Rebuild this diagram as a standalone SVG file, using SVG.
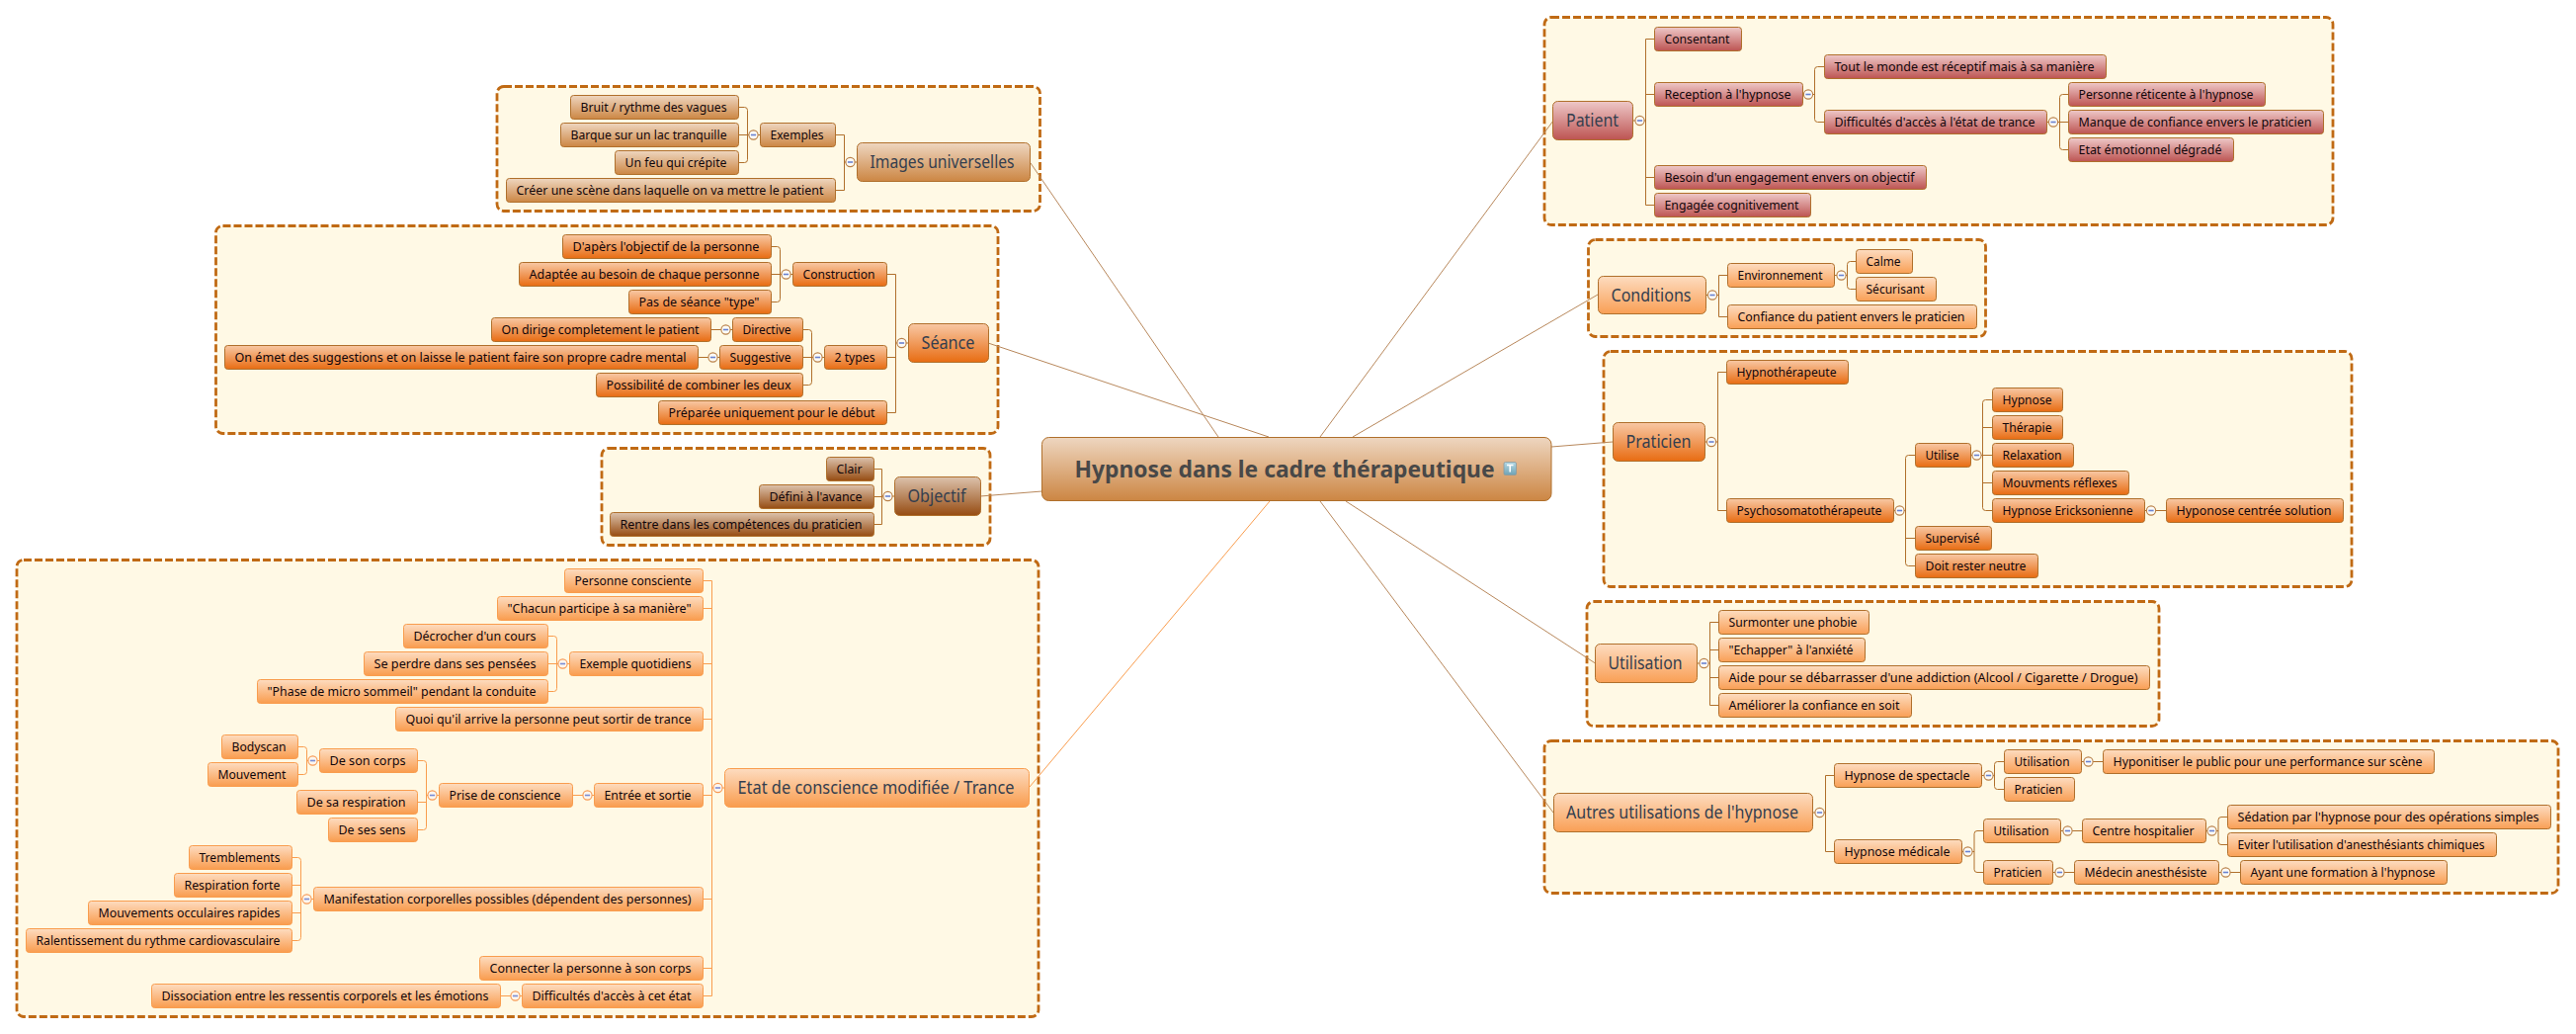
<svg xmlns="http://www.w3.org/2000/svg" xmlns:xlink="http://www.w3.org/1999/xlink" width="2607" height="1046" viewBox="0 0 2607 1046">
<style>
svg{background:#fff}
.grp{fill:#fff9e5;stroke:#c06a14;stroke-width:2.8;stroke-dasharray:8 3}
.c{fill:none;stroke:#b0702c;stroke-width:1}
.ce{fill:none;stroke:#f99d4e;stroke-width:1}
.m{fill:none;stroke:#b8885c;stroke-width:1}
rect.n{stroke:#b0702c;stroke-width:1}
.r rect.n{fill:url(#gr)}
.o rect.n{fill:url(#go)}
.s rect.n{fill:url(#gs)}
.i rect.n{fill:url(#gi)}
.b rect.n{fill:url(#gb)}
.e rect.n{fill:url(#ge);stroke:#f99d4e}
text{font-family:"Noto Sans","Open Sans","Liberation Sans",sans-serif;font-size:13px;fill:#12060a}
text.l{font-size:18px;fill:#343e4e}
text.root{font-size:23px;font-weight:bold;fill:#484848}
</style>
<defs>
<linearGradient id="gr" x1="0" y1="0" x2="0" y2="1"><stop offset="0" stop-color="#eec8c8"/><stop offset="1" stop-color="#bd5452"/></linearGradient>
<linearGradient id="go" x1="0" y1="0" x2="0" y2="1"><stop offset="0" stop-color="#fddcc0"/><stop offset="1" stop-color="#f99f55"/></linearGradient>
<linearGradient id="gs" x1="0" y1="0" x2="0" y2="1"><stop offset="0" stop-color="#f8c8a4"/><stop offset="1" stop-color="#e86c12"/></linearGradient>
<linearGradient id="gi" x1="0" y1="0" x2="0" y2="1"><stop offset="0" stop-color="#eed6c0"/><stop offset="1" stop-color="#cc8643"/></linearGradient>
<linearGradient id="gb" x1="0" y1="0" x2="0" y2="1"><stop offset="0" stop-color="#dcc2ac"/><stop offset="1" stop-color="#964c12"/></linearGradient>
<linearGradient id="ge" x1="0" y1="0" x2="0" y2="1"><stop offset="0" stop-color="#fddcc0"/><stop offset="1" stop-color="#f99c4e"/></linearGradient>
<linearGradient id="gt" x1="0" y1="0" x2="0" y2="1"><stop offset="0" stop-color="#b4d8e4"/><stop offset="1" stop-color="#6fa3b5"/></linearGradient>
<g id="tg"><circle r="4.6" fill="#fdfbf6" stroke="#b98048" stroke-width="1.1"/><path d="M-2.6 0H2.6" stroke="#6a82d0" stroke-width="1.6"/></g>
<g id="tge"><circle r="4.6" fill="#fdf6ee" stroke="#f79a55" stroke-width="1.1"/><path d="M-2.6 0H2.6" stroke="#7a8cd4" stroke-width="1.6"/></g>
</defs>

<g id="boundaries">
<rect class="grp" x="1563" y="17.5" width="798" height="210" rx="7"/>
<rect class="grp" x="1607.5" y="242.5" width="402" height="98" rx="7"/>
<rect class="grp" x="1623" y="355.5" width="757" height="238" rx="7"/>
<rect class="grp" x="1606" y="608.5" width="579" height="126" rx="7"/>
<rect class="grp" x="1563" y="749.5" width="1026" height="154" rx="7"/>
<rect class="grp" x="503" y="87.5" width="549.5" height="126" rx="7"/>
<rect class="grp" x="218.5" y="228.5" width="791.5" height="210" rx="7"/>
<rect class="grp" x="609" y="453.5" width="393" height="98" rx="7"/>
<rect class="grp" x="17" y="566.5" width="1034" height="462" rx="7"/>
</g>

<g id="connectors">
<path class="m" d="M1043 165L1233 442M1000 347L1284 442M1572 122L1336 442M1617 298L1369 442M1632 447L1570 452M1614.5 671L1362 507M1572 822L1336 507M992 502L1054.5 497"/>
<path class="ce" d="M1042 796L1285 507"/>
<path class="c" d="M1652.5 122H1665.5M1674.5 39.5H1665.5V207.5H1674.5M1665.5 95.5H1674.5M1665.5 179.5H1674.5"/>
<path class="c" d="M1824.5 95.5H1836.5M1846.5 67.5H1839.5Q1836.5 67.5 1836.5 70.5V120.5Q1836.5 123.5 1839.5 123.5H1846.5"/>
<path class="c" d="M2071.5 123.5H2093.5M2093.5 95.5H2087.5Q2084.5 95.5 2084.5 98.5V148.5Q2084.5 151.5 2087.5 151.5H2093.5"/>
<path class="c" d="M1726.5 298.5H1739.5M1748.5 278.5H1739.5V320.5H1748.5"/>
<path class="c" d="M1856.5 278.5H1869.5M1878.5 264.5H1872.5Q1869.5 264.5 1869.5 267.5V289.5Q1869.5 292.5 1872.5 292.5H1878.5"/>
<path class="c" d="M1725.5 447H1738.5M1747.5 376.5H1738.5V516.5H1747.5"/>
<path class="c" d="M1916.5 516.5H1928.5M1938.5 460.5H1931.5Q1928.5 460.5 1928.5 463.5V569.5Q1928.5 572.5 1931.5 572.5H1938.5M1928.5 544.5H1938.5"/>
<path class="c" d="M1994.5 460.5H2016.5M2016.5 404.5H2009.5Q2006.5 404.5 2006.5 407.5V513.5Q2006.5 516.5 2009.5 516.5H2016.5M2006.5 432.5H2016.5M2006.5 488.5H2016.5"/>
<path class="c" d="M2170.5 516.5H2192.5"/>
<path class="c" d="M1717.5 671H1730.5M1739.5 629.5H1730.5V713.5H1739.5M1730.5 657.5H1739.5M1730.5 685.5H1739.5"/>
<path class="c" d="M1834.5 822H1847.5M1856.5 784.5H1847.5V861.5H1856.5"/>
<path class="c" d="M2005.5 784.5H2018.5M2028.5 770.5H2021.5Q2018.5 770.5 2018.5 773.5V795.5Q2018.5 798.5 2021.5 798.5H2028.5"/>
<path class="c" d="M2106.5 770.5H2128.5"/>
<path class="c" d="M1985.5 861.5H1998M2007.5 840.5H2001Q1998 840.5 1998 843.5V879.5Q1998 882.5 2001 882.5H2007.5"/>
<path class="c" d="M2085.5 840.5H2107.5M2077.5 882.5H2099.5M2245.5 882.5H2267.5"/>
<path class="c" d="M2232.5 840.5H2245M2254.5 826.5H2248Q2245 826.5 2245 829.5V851.5Q2245 854.5 2248 854.5H2254.5"/>
<path class="c" d="M867.5 164H854.5M845.5 136.5H854.5V192.5H845.5"/>
<path class="c" d="M769.5 136.5H747.5M747.5 108.5H753.5Q756.5 108.5 756.5 111.5V161.5Q756.5 164.5 753.5 164.5H747.5"/>
<path class="c" d="M919.5 347H906.5M897.5 277.5H906.5V417.5H897.5M906.5 361.5H897.5"/>
<path class="c" d="M802.5 277.5H780.5M780.5 249.5H786.5Q789.5 249.5 789.5 252.5V302.5Q789.5 305.5 786.5 305.5H780.5"/>
<path class="c" d="M834.5 361.5H812.5M812.5 333.5H818.5Q821.5 333.5 821.5 336.5V386.5Q821.5 389.5 818.5 389.5H812.5"/>
<path class="c" d="M741.5 333.5H719.5M728.5 361.5H706.5"/>
<path class="c" d="M905.5 502H892.5M884.5 474.5H892.5V530.5H884.5M892.5 502.5H884.5"/>
<path class="ce" d="M733.5 797H720.5M711.5 587.5H720.5V1007.5H711.5M720.5 615.5H711.5M720.5 671.5H711.5M720.5 727.5H711.5M720.5 804.5H711.5M720.5 909.5H711.5M720.5 979.5H711.5"/>
<path class="ce" d="M576.5 671.5H554.5M554.5 643.5H560.5Q563.5 643.5 563.5 646.5V696.5Q563.5 699.5 560.5 699.5H554.5"/>
<path class="ce" d="M601.5 804.5H579.5M528.5 1007.5H506.5"/>
<path class="ce" d="M444.5 804.5H431.5M422.5 769.5H428.5Q431.5 769.5 431.5 772.5V836.5Q431.5 839.5 428.5 839.5H422.5M431.5 811.5H422.5"/>
<path class="ce" d="M323.5 769.5H310.5M301.5 755.5H307.5Q310.5 755.5 310.5 758.5V780.5Q310.5 783.5 307.5 783.5H301.5"/>
<path class="ce" d="M317.5 909.5H304.5M295.5 867.5H301.5Q304.5 867.5 304.5 870.5V948.5Q304.5 951.5 301.5 951.5H295.5M304.5 895.5H295.5M304.5 923.5H295.5"/>
</g>

<g id="toggles">
<use href="#tg" x="1659.5" y="122"/><use href="#tg" x="1830" y="95.5"/><use href="#tg" x="2078" y="123.5"/>
<use href="#tg" x="1733" y="298.5"/><use href="#tg" x="1863.5" y="278.5"/>
<use href="#tg" x="1732" y="447"/><use href="#tg" x="1922.5" y="516.5"/><use href="#tg" x="2000.5" y="460.5"/><use href="#tg" x="2177" y="516.5"/>
<use href="#tg" x="1724.5" y="671"/>
<use href="#tg" x="1841.5" y="822"/><use href="#tg" x="2012.5" y="784.5"/><use href="#tg" x="2113.5" y="770.5"/><use href="#tg" x="1991.5" y="861.5"/><use href="#tg" x="2092.5" y="840.5"/><use href="#tg" x="2238.5" y="840.5"/><use href="#tg" x="2084.5" y="882.5"/><use href="#tg" x="2252.5" y="882.5"/>
<use href="#tg" x="860.5" y="164"/><use href="#tg" x="762.5" y="136.5"/>
<use href="#tg" x="912.5" y="347"/><use href="#tg" x="795.5" y="277.5"/><use href="#tg" x="827.5" y="361.5"/><use href="#tg" x="734.5" y="333.5"/><use href="#tg" x="721.5" y="361.5"/>
<use href="#tg" x="898.5" y="502"/>
<use href="#tge" x="726.5" y="797"/><use href="#tge" x="569.5" y="671.5"/><use href="#tge" x="594.5" y="804.5"/><use href="#tge" x="521.5" y="1007.5"/><use href="#tge" x="437.5" y="804.5"/><use href="#tge" x="316.5" y="769.5"/><use href="#tge" x="310.5" y="909.5"/>
</g>

<g id="root" class="i"><rect class="n" x="1054.5" y="442.5" width="515.5" height="64" rx="7"/><text class="root" x="1087.5" y="483" textLength="425" lengthAdjust="spacingAndGlyphs">Hypnose dans le cadre thérapeutique</text><rect x="1522" y="467.5" width="12.5" height="13" rx="1.5" fill="url(#gt)" stroke="#8a9aa0" stroke-width=".8"/><path d="M1525 470.5h6.5M1528.2 470.5v7" stroke="#fff" stroke-width="1.6" fill="none"/></g>

<g id="patient" class="r"><rect class="n" x="1571.5" y="102.5" width="81" height="39" rx="5"/><text class="l" x="1585" y="128" textLength="53" lengthAdjust="spacingAndGlyphs">Patient</text></g>
<g id="consentant" class="r"><rect class="n" x="1674.5" y="27.5" width="88" height="24" rx="3"/><text x="1684.5" y="44" textLength="66" lengthAdjust="spacingAndGlyphs">Consentant</text></g>
<g id="reception" class="r"><rect class="n" x="1674.5" y="83.5" width="150" height="24" rx="3"/><text x="1684.5" y="100" textLength="128" lengthAdjust="spacingAndGlyphs">Reception à l'hypnose</text></g>
<g id="tout" class="r"><rect class="n" x="1846.5" y="55.5" width="285" height="24" rx="3"/><text x="1856.5" y="72" textLength="263" lengthAdjust="spacingAndGlyphs">Tout le monde est réceptif mais à sa manière</text></g>
<g id="difficultes" class="r"><rect class="n" x="1846.5" y="111.5" width="225" height="24" rx="3"/><text x="1856.5" y="128" textLength="203" lengthAdjust="spacingAndGlyphs">Difficultés d'accès à l'état de trance</text></g>
<g id="reticente" class="r"><rect class="n" x="2093.5" y="83.5" width="199" height="24" rx="3"/><text x="2103.5" y="100" textLength="177" lengthAdjust="spacingAndGlyphs">Personne réticente à l'hypnose</text></g>
<g id="manque" class="r"><rect class="n" x="2093.5" y="111.5" width="258" height="24" rx="3"/><text x="2103.5" y="128" textLength="236" lengthAdjust="spacingAndGlyphs">Manque de confiance envers le praticien</text></g>
<g id="etat-emo" class="r"><rect class="n" x="2093.5" y="139.5" width="167" height="24" rx="3"/><text x="2103.5" y="156" textLength="145" lengthAdjust="spacingAndGlyphs">Etat émotionnel dégradé</text></g>
<g id="besoin" class="r"><rect class="n" x="1674.5" y="167.5" width="275" height="24" rx="3"/><text x="1684.5" y="184" textLength="253" lengthAdjust="spacingAndGlyphs">Besoin d'un engagement envers on objectif</text></g>
<g id="engagee" class="r"><rect class="n" x="1674.5" y="195.5" width="158" height="24" rx="3"/><text x="1684.5" y="212" textLength="136" lengthAdjust="spacingAndGlyphs">Engagée cognitivement</text></g>

<g id="conditions" class="o"><rect class="n" x="1617.5" y="279.5" width="109" height="38" rx="5"/><text class="l" x="1630.5" y="304.5" textLength="81" lengthAdjust="spacingAndGlyphs">Conditions</text></g>
<g id="environnement" class="o"><rect class="n" x="1748.5" y="266.5" width="108" height="24" rx="3"/><text x="1758.5" y="283" textLength="86" lengthAdjust="spacingAndGlyphs">Environnement</text></g>
<g id="calme" class="o"><rect class="n" x="1878.5" y="252.5" width="57" height="24" rx="3"/><text x="1888.5" y="269" textLength="35" lengthAdjust="spacingAndGlyphs">Calme</text></g>
<g id="securisant" class="o"><rect class="n" x="1878.5" y="280.5" width="81" height="24" rx="3"/><text x="1888.5" y="297" textLength="59" lengthAdjust="spacingAndGlyphs">Sécurisant</text></g>
<g id="confiance" class="o"><rect class="n" x="1748.5" y="308.5" width="252" height="24" rx="3"/><text x="1758.5" y="325" textLength="230" lengthAdjust="spacingAndGlyphs">Confiance du patient envers le praticien</text></g>

<g id="praticien" class="s"><rect class="n" x="1632.5" y="427.5" width="93" height="39" rx="5"/><text class="l" x="1645.5" y="453" textLength="66" lengthAdjust="spacingAndGlyphs">Praticien</text></g>
<g id="hypnotherapeute" class="s"><rect class="n" x="1747.5" y="364.5" width="123" height="24" rx="3"/><text x="1757.5" y="381" textLength="101" lengthAdjust="spacingAndGlyphs">Hypnothérapeute</text></g>
<g id="psycho" class="s"><rect class="n" x="1747.5" y="504.5" width="169" height="24" rx="3"/><text x="1757.5" y="521" textLength="147" lengthAdjust="spacingAndGlyphs">Psychosomatothérapeute</text></g>
<g id="utilise" class="s"><rect class="n" x="1938.5" y="448.5" width="56" height="24" rx="3"/><text x="1948.5" y="465" textLength="34" lengthAdjust="spacingAndGlyphs">Utilise</text></g>
<g id="hypnose" class="s"><rect class="n" x="2016.5" y="392.5" width="71" height="24" rx="3"/><text x="2026.5" y="409" textLength="50" lengthAdjust="spacingAndGlyphs">Hypnose</text></g>
<g id="therapie" class="s"><rect class="n" x="2016.5" y="420.5" width="71" height="24" rx="3"/><text x="2026.5" y="437" textLength="50" lengthAdjust="spacingAndGlyphs">Thérapie</text></g>
<g id="relaxation" class="s"><rect class="n" x="2016.5" y="448.5" width="82" height="24" rx="3"/><text x="2026.5" y="465" textLength="60" lengthAdjust="spacingAndGlyphs">Relaxation</text></g>
<g id="mouvments" class="s"><rect class="n" x="2016.5" y="476.5" width="138" height="24" rx="3"/><text x="2026.5" y="493" textLength="116" lengthAdjust="spacingAndGlyphs">Mouvments réflexes</text></g>
<g id="erick" class="s"><rect class="n" x="2016.5" y="504.5" width="154" height="24" rx="3"/><text x="2026.5" y="521" textLength="132" lengthAdjust="spacingAndGlyphs">Hypnose Ericksonienne</text></g>
<g id="solution" class="s"><rect class="n" x="2192.5" y="504.5" width="179" height="24" rx="3"/><text x="2202.5" y="521" textLength="157" lengthAdjust="spacingAndGlyphs">Hyponose centrée solution</text></g>
<g id="supervise" class="s"><rect class="n" x="1938.5" y="532.5" width="77" height="24" rx="3"/><text x="1948.5" y="549" textLength="55" lengthAdjust="spacingAndGlyphs">Supervisé</text></g>
<g id="neutre" class="s"><rect class="n" x="1938.5" y="560.5" width="124" height="24" rx="3"/><text x="1948.5" y="577" textLength="102" lengthAdjust="spacingAndGlyphs">Doit rester neutre</text></g>

<g id="utilisation" class="o"><rect class="n" x="1614.5" y="651.5" width="103" height="39" rx="5"/><text class="l" x="1627.5" y="677" textLength="75" lengthAdjust="spacingAndGlyphs">Utilisation</text></g>
<g id="phobie" class="o"><rect class="n" x="1739.5" y="617.5" width="152" height="24" rx="3"/><text x="1749.5" y="634" textLength="130" lengthAdjust="spacingAndGlyphs">Surmonter une phobie</text></g>
<g id="anxiete" class="o"><rect class="n" x="1739.5" y="645.5" width="148" height="24" rx="3"/><text x="1749.5" y="662" textLength="126" lengthAdjust="spacingAndGlyphs">"Echapper" à l'anxiété</text></g>
<g id="addiction" class="o"><rect class="n" x="1739.5" y="673.5" width="436" height="24" rx="3"/><text x="1749.5" y="690" textLength="414" lengthAdjust="spacingAndGlyphs">Aide pour se débarrasser d'une addiction (Alcool / Cigarette / Drogue)</text></g>
<g id="ameliorer" class="o"><rect class="n" x="1739.5" y="701.5" width="195" height="24" rx="3"/><text x="1749.5" y="718" textLength="173" lengthAdjust="spacingAndGlyphs">Améliorer la confiance en soit</text></g>

<g id="autres" class="o"><rect class="n" x="1572.5" y="802.5" width="262" height="39" rx="5"/><text class="l" x="1585" y="828" textLength="235" lengthAdjust="spacingAndGlyphs">Autres utilisations de l'hypnose</text></g>
<g id="spectacle" class="o"><rect class="n" x="1856.5" y="772.5" width="149" height="24" rx="3"/><text x="1866.5" y="789" textLength="127" lengthAdjust="spacingAndGlyphs">Hypnose de spectacle</text></g>
<g id="util-s" class="o"><rect class="n" x="2028.5" y="758.5" width="78" height="24" rx="3"/><text x="2038.5" y="775" textLength="56" lengthAdjust="spacingAndGlyphs">Utilisation</text></g>
<g id="public" class="o"><rect class="n" x="2128.5" y="758.5" width="335" height="24" rx="3"/><text x="2138.5" y="775" textLength="313" lengthAdjust="spacingAndGlyphs">Hyponitiser le public pour une performance sur scène</text></g>
<g id="prat-s" class="o"><rect class="n" x="2028.5" y="786.5" width="71" height="24" rx="3"/><text x="2038.5" y="803" textLength="49" lengthAdjust="spacingAndGlyphs">Praticien</text></g>
<g id="medicale" class="o"><rect class="n" x="1856.5" y="849.5" width="129" height="24" rx="3"/><text x="1866.5" y="866" textLength="107" lengthAdjust="spacingAndGlyphs">Hypnose médicale</text></g>
<g id="util-m" class="o"><rect class="n" x="2007.5" y="828.5" width="78" height="24" rx="3"/><text x="2017.5" y="845" textLength="56" lengthAdjust="spacingAndGlyphs">Utilisation</text></g>
<g id="centre" class="o"><rect class="n" x="2107.5" y="828.5" width="125" height="24" rx="3"/><text x="2117.5" y="845" textLength="103" lengthAdjust="spacingAndGlyphs">Centre hospitalier</text></g>
<g id="sedation" class="o"><rect class="n" x="2254.5" y="814.5" width="327" height="24" rx="3"/><text x="2264.5" y="831" textLength="305" lengthAdjust="spacingAndGlyphs">Sédation par l'hypnose pour des opérations simples</text></g>
<g id="eviter" class="o"><rect class="n" x="2254.5" y="842.5" width="272" height="24" rx="3"/><text x="2264.5" y="859" textLength="250" lengthAdjust="spacingAndGlyphs">Eviter l'utilisation d'anesthésiants chimiques</text></g>
<g id="prat-m" class="o"><rect class="n" x="2007.5" y="870.5" width="70" height="24" rx="3"/><text x="2017.5" y="887" textLength="49" lengthAdjust="spacingAndGlyphs">Praticien</text></g>
<g id="medecin" class="o"><rect class="n" x="2099.5" y="870.5" width="146" height="24" rx="3"/><text x="2109.5" y="887" textLength="124" lengthAdjust="spacingAndGlyphs">Médecin anesthésiste</text></g>
<g id="formation" class="o"><rect class="n" x="2267.5" y="870.5" width="209" height="24" rx="3"/><text x="2277.5" y="887" textLength="187" lengthAdjust="spacingAndGlyphs">Ayant une formation à l'hypnose</text></g>

<g id="images" class="i"><rect class="n" x="867.5" y="144.5" width="175" height="39" rx="5"/><text class="l" x="880.5" y="170" textLength="146" lengthAdjust="spacingAndGlyphs">Images universelles</text></g>
<g id="exemples" class="i"><rect class="n" x="769.5" y="124.5" width="76" height="24" rx="3"/><text x="779.5" y="141" textLength="54" lengthAdjust="spacingAndGlyphs">Exemples</text></g>
<g id="bruit" class="i"><rect class="n" x="577.5" y="96.5" width="170" height="24" rx="3"/><text x="587.5" y="113" textLength="148" lengthAdjust="spacingAndGlyphs">Bruit / rythme des vagues</text></g>
<g id="barque" class="i"><rect class="n" x="567.5" y="124.5" width="180" height="24" rx="3"/><text x="577.5" y="141" textLength="158" lengthAdjust="spacingAndGlyphs">Barque sur un lac tranquille</text></g>
<g id="feu" class="i"><rect class="n" x="622.5" y="152.5" width="125" height="24" rx="3"/><text x="632.5" y="169" textLength="103" lengthAdjust="spacingAndGlyphs">Un feu qui crépite</text></g>
<g id="creer" class="i"><rect class="n" x="512.5" y="180.5" width="333" height="24" rx="3"/><text x="522.5" y="197" textLength="311" lengthAdjust="spacingAndGlyphs">Créer une scène dans laquelle on va mettre le patient</text></g>

<g id="seance" class="s"><rect class="n" x="919.5" y="327.5" width="81" height="39" rx="5"/><text class="l" x="932.5" y="353" textLength="54" lengthAdjust="spacingAndGlyphs">Séance</text></g>
<g id="construction" class="s"><rect class="n" x="802.5" y="265.5" width="95" height="24" rx="3"/><text x="812.5" y="282" textLength="73" lengthAdjust="spacingAndGlyphs">Construction</text></g>
<g id="dapres" class="s"><rect class="n" x="569.5" y="237.5" width="211" height="24" rx="3"/><text x="579.5" y="254" textLength="189" lengthAdjust="spacingAndGlyphs">D'apèrs l'objectif de la personne</text></g>
<g id="adaptee" class="s"><rect class="n" x="525.5" y="265.5" width="255" height="24" rx="3"/><text x="535.5" y="282" textLength="233" lengthAdjust="spacingAndGlyphs">Adaptée au besoin de chaque personne</text></g>
<g id="pas" class="s"><rect class="n" x="636.5" y="293.5" width="144" height="24" rx="3"/><text x="646.5" y="310" textLength="122" lengthAdjust="spacingAndGlyphs">Pas de séance "type"</text></g>
<g id="types" class="s"><rect class="n" x="834.5" y="349.5" width="63" height="24" rx="3"/><text x="844.5" y="366" textLength="41" lengthAdjust="spacingAndGlyphs">2 types</text></g>
<g id="directive" class="s"><rect class="n" x="741.5" y="321.5" width="71" height="24" rx="3"/><text x="751.5" y="338" textLength="49" lengthAdjust="spacingAndGlyphs">Directive</text></g>
<g id="dirige" class="s"><rect class="n" x="497.5" y="321.5" width="222" height="24" rx="3"/><text x="507.5" y="338" textLength="200" lengthAdjust="spacingAndGlyphs">On dirige completement le patient</text></g>
<g id="suggestive" class="s"><rect class="n" x="728.5" y="349.5" width="84" height="24" rx="3"/><text x="738.5" y="366" textLength="62" lengthAdjust="spacingAndGlyphs">Suggestive</text></g>
<g id="emet" class="s"><rect class="n" x="227.5" y="349.5" width="479" height="24" rx="3"/><text x="237.5" y="366" textLength="457" lengthAdjust="spacingAndGlyphs">On émet des suggestions et on laisse le patient faire son propre cadre mental</text></g>
<g id="possibilite" class="s"><rect class="n" x="603.5" y="377.5" width="209" height="24" rx="3"/><text x="613.5" y="394" textLength="187" lengthAdjust="spacingAndGlyphs">Possibilité de combiner les deux</text></g>
<g id="preparee" class="s"><rect class="n" x="666.5" y="405.5" width="231" height="24" rx="3"/><text x="676.5" y="422" textLength="209" lengthAdjust="spacingAndGlyphs">Préparée uniquement pour le début</text></g>

<g id="objectif" class="b"><rect class="n" x="905.5" y="482.5" width="87" height="39" rx="5"/><text class="l" x="918.5" y="508" textLength="59" lengthAdjust="spacingAndGlyphs">Objectif</text></g>
<g id="clair" class="b"><rect class="n" x="836.5" y="462.5" width="48" height="24" rx="3"/><text x="846.5" y="479" textLength="26" lengthAdjust="spacingAndGlyphs">Clair</text></g>
<g id="defini" class="b"><rect class="n" x="768.5" y="490.5" width="116" height="24" rx="3"/><text x="778.5" y="507" textLength="94" lengthAdjust="spacingAndGlyphs">Défini à l'avance</text></g>
<g id="rentre" class="b"><rect class="n" x="617.5" y="518.5" width="267" height="24" rx="3"/><text x="627.5" y="535" textLength="245" lengthAdjust="spacingAndGlyphs">Rentre dans les compétences du praticien</text></g>

<g id="etat" class="e"><rect class="n" x="733.5" y="777.5" width="308" height="39" rx="5"/><text class="l" x="746.5" y="803" textLength="280" lengthAdjust="spacingAndGlyphs">Etat de conscience modifiée / Trance</text></g>
<g id="consciente" class="e"><rect class="n" x="571.5" y="575.5" width="140" height="24" rx="3"/><text x="581.5" y="592" textLength="118" lengthAdjust="spacingAndGlyphs">Personne consciente</text></g>
<g id="chacun" class="e"><rect class="n" x="503.5" y="603.5" width="208" height="24" rx="3"/><text x="513.5" y="620" textLength="186" lengthAdjust="spacingAndGlyphs">"Chacun participe à sa manière"</text></g>
<g id="quotidiens" class="e"><rect class="n" x="576.5" y="659.5" width="135" height="24" rx="3"/><text x="586.5" y="676" textLength="113" lengthAdjust="spacingAndGlyphs">Exemple quotidiens</text></g>
<g id="decrocher" class="e"><rect class="n" x="408.5" y="631.5" width="146" height="24" rx="3"/><text x="418.5" y="648" textLength="124" lengthAdjust="spacingAndGlyphs">Décrocher d'un cours</text></g>
<g id="perdre" class="e"><rect class="n" x="368.5" y="659.5" width="186" height="24" rx="3"/><text x="378.5" y="676" textLength="164" lengthAdjust="spacingAndGlyphs">Se perdre dans ses pensées</text></g>
<g id="phase" class="e"><rect class="n" x="260.5" y="687.5" width="294" height="24" rx="3"/><text x="270.5" y="704" textLength="272" lengthAdjust="spacingAndGlyphs">"Phase de micro sommeil" pendant la conduite</text></g>
<g id="quoi" class="e"><rect class="n" x="400.5" y="715.5" width="311" height="24" rx="3"/><text x="410.5" y="732" textLength="289" lengthAdjust="spacingAndGlyphs">Quoi qu'il arrive la personne peut sortir de trance</text></g>
<g id="entree" class="e"><rect class="n" x="601.5" y="792.5" width="110" height="24" rx="3"/><text x="611.5" y="809" textLength="88" lengthAdjust="spacingAndGlyphs">Entrée et sortie</text></g>
<g id="prise" class="e"><rect class="n" x="444.5" y="792.5" width="135" height="24" rx="3"/><text x="454.5" y="809" textLength="113" lengthAdjust="spacingAndGlyphs">Prise de conscience</text></g>
<g id="corps" class="e"><rect class="n" x="323.5" y="757.5" width="99" height="24" rx="3"/><text x="333.5" y="774" textLength="77" lengthAdjust="spacingAndGlyphs">De son corps</text></g>
<g id="bodyscan" class="e"><rect class="n" x="224.5" y="743.5" width="77" height="24" rx="3"/><text x="234.5" y="760" textLength="55" lengthAdjust="spacingAndGlyphs">Bodyscan</text></g>
<g id="mouvement" class="e"><rect class="n" x="210.5" y="771.5" width="91" height="24" rx="3"/><text x="220.5" y="788" textLength="69" lengthAdjust="spacingAndGlyphs">Mouvement</text></g>
<g id="respiration" class="e"><rect class="n" x="300.5" y="799.5" width="122" height="24" rx="3"/><text x="310.5" y="816" textLength="100" lengthAdjust="spacingAndGlyphs">De sa respiration</text></g>
<g id="sens" class="e"><rect class="n" x="332.5" y="827.5" width="90" height="24" rx="3"/><text x="342.5" y="844" textLength="68" lengthAdjust="spacingAndGlyphs">De ses sens</text></g>
<g id="manifestation" class="e"><rect class="n" x="317.5" y="897.5" width="394" height="24" rx="3"/><text x="327.5" y="914" textLength="372" lengthAdjust="spacingAndGlyphs">Manifestation corporelles possibles (dépendent des personnes)</text></g>
<g id="tremblements" class="e"><rect class="n" x="191.5" y="855.5" width="104" height="24" rx="3"/><text x="201.5" y="872" textLength="82" lengthAdjust="spacingAndGlyphs">Tremblements</text></g>
<g id="resp-forte" class="e"><rect class="n" x="176.5" y="883.5" width="119" height="24" rx="3"/><text x="186.5" y="900" textLength="97" lengthAdjust="spacingAndGlyphs">Respiration forte</text></g>
<g id="occulaires" class="e"><rect class="n" x="89.5" y="911.5" width="206" height="24" rx="3"/><text x="99.5" y="928" textLength="184" lengthAdjust="spacingAndGlyphs">Mouvements occulaires rapides</text></g>
<g id="ralentissement" class="e"><rect class="n" x="26.5" y="939.5" width="269" height="24" rx="3"/><text x="36.5" y="956" textLength="247" lengthAdjust="spacingAndGlyphs">Ralentissement du rythme cardiovasculaire</text></g>
<g id="connecter" class="e"><rect class="n" x="485.5" y="967.5" width="226" height="24" rx="3"/><text x="495.5" y="984" textLength="204" lengthAdjust="spacingAndGlyphs">Connecter la personne à son corps</text></g>
<g id="diff-etat" class="e"><rect class="n" x="528.5" y="995.5" width="183" height="24" rx="3"/><text x="538.5" y="1012" textLength="161" lengthAdjust="spacingAndGlyphs">Difficultés d'accès à cet état</text></g>
<g id="dissociation" class="e"><rect class="n" x="153.5" y="995.5" width="353" height="24" rx="3"/><text x="163.5" y="1012" textLength="331" lengthAdjust="spacingAndGlyphs">Dissociation entre les ressentis corporels et les émotions</text></g>
</svg>
